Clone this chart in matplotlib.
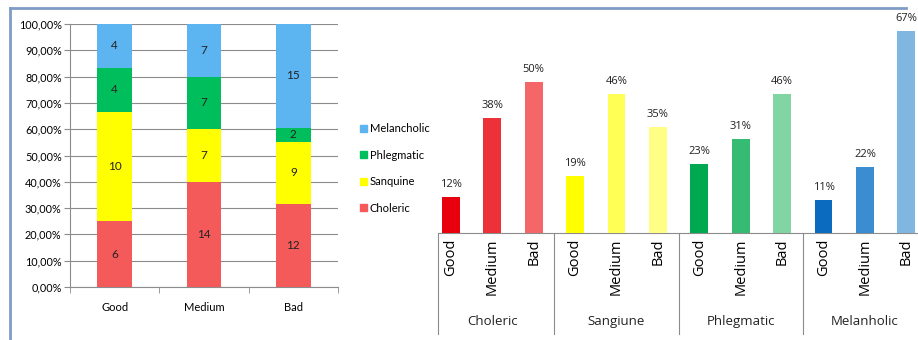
import matplotlib
matplotlib.use("Agg")
import matplotlib.pyplot as plt
import matplotlib.transforms as mtransforms
from matplotlib.lines import Line2D
from matplotlib.patches import Patch
from matplotlib.ticker import FuncFormatter

# left chart: counts stacked to 100%
levels = ['Good', 'Medium', 'Bad']
temperaments = ['Choleric', 'Sanquine', 'Phlegmatic', 'Melancholic']
choleric = [6, 14, 12]
sanquine = [10, 7, 9]
phlegmatic = [4, 7, 2]
melancholic = [4, 7, 15]
stack_colors = ['#F45A5A', '#FFFF00', '#00BE5C', '#5CB4F0']

# right chart: percentages per temperament
groups = ['Choleric', 'Sangiune', 'Phlegmatic', 'Melanholic']
pct_choleric = [12, 38, 50]
pct_sanguine = [19, 46, 35]
pct_phlegmatic = [23, 31, 46]
pct_melancholic = [11, 22, 67]
bar_colors = [['#E8000E', '#EC3238', '#F46668'],
              ['#FFFF00', '#FFFF55', '#FFFF85'],
              ['#00A84F', '#36BC72', '#80D5A3'],
              ['#0B6CBF', '#3A8DD0', '#80B7E0']]

W, H = 918, 340
fig = plt.figure(figsize=(W / 100, H / 100), dpi=100)
fig.patch.set_facecolor('white')

# ---- left stacked chart
ax1 = fig.add_axes([70 / W, 53 / H, 268 / W, 263 / H])
series = [choleric, sanquine, phlegmatic, melancholic]
totals = [sum(s[i] for s in series) for i in range(len(levels))]
x = range(len(levels))
bottoms = [0.0] * len(levels)
for name, vals, col in zip(temperaments, series, stack_colors):
    fr = [v / t for v, t in zip(vals, totals)]
    ax1.bar(x, fr, 0.39, bottom=bottoms, color=col, zorder=3, label=name)
    for i in x:
        ax1.text(i, bottoms[i] + fr[i] / 2, str(vals[i]), ha='center', va='center',
                 fontsize=8.5, color='#222222', family='Lato', zorder=4)
    bottoms = [b + f for b, f in zip(bottoms, fr)]

ax1.set_xlim(-0.5, 2.5)
ax1.set_ylim(0, 1)
ax1.set_yticks([i / 10 for i in range(11)])
ax1.yaxis.set_major_formatter(FuncFormatter(lambda v, p: f"{v * 100:.2f}%".replace('.', ',')))
ax1.grid(axis='y', color='#8C8C8C', linewidth=0.8, zorder=0)
ax1.set_xticks(list(x))
ax1.set_xticklabels(levels)
ax1.set_xticks([-0.5, 0.5, 1.5, 2.5], minor=True)
ax1.tick_params(axis='x', which='major', length=0, pad=11, labelsize=8)
ax1.tick_params(axis='x', which='minor', length=4, color='#8C8C8C', direction='out')
ax1.tick_params(axis='y', length=4, color='#8C8C8C', pad=2, labelsize=7.8)
for lab in ax1.get_xticklabels() + ax1.get_yticklabels():
    lab.set_family('Lato')
for s in ['top', 'right']:
    ax1.spines[s].set_visible(False)
for s in ['left', 'bottom']:
    ax1.spines[s].set_color('#8C8C8C')
    ax1.spines[s].set_linewidth(0.8)

handles = [Patch(color=c, label=n) for n, c in zip(temperaments, stack_colors)][::-1]
fig.legend(handles=handles, loc='upper left', bbox_to_anchor=(350 / W, 1 - 113 / H),
           frameon=False, handlelength=0.6, handleheight=0.6,
           handletextpad=0.3, labelspacing=1.4, prop={'family': 'Lato', 'size': 8})

# ---- right grouped chart
ax2 = fig.add_axes([438 / W, 107 / H, 480 / W, 223.5 / H])
pcts = [pct_choleric, pct_sanguine, pct_phlegmatic, pct_melancholic]
pos = 0
ticks, ticklabels = [], []
for g, vals, cols in zip(groups, pcts, bar_colors):
    for lvl, v, c in zip(levels, vals, cols):
        ax2.bar(pos, v / 100, 0.43, color=c, zorder=3)
        ax2.annotate(f"{v}%", (pos, v / 100), xytext=(0, 5), textcoords='offset points',
                     ha='center', va='bottom', fontsize=8, family='Open Sans', color='#222222')
        ticks.append(pos)
        ticklabels.append(lvl)
        pos += 1

ax2.set_xlim(-0.31, 11.28)
ax2.set_ylim(0, 0.74)
ax2.set_yticks([])
ax2.set_xticks(ticks)
ax2.set_xticklabels(ticklabels, rotation=90, fontsize=10.5, family='Open Sans', va='top')
ax2.tick_params(axis='x', length=0, pad=4)
for s in ['top', 'right', 'left']:
    ax2.spines[s].set_visible(False)
ax2.spines['bottom'].set_color('#8C8C8C')
ax2.spines['bottom'].set_linewidth(0.8)

trans = mtransforms.blended_transform_factory(ax2.transData, ax2.transAxes)
for sep in [-0.31, 2.5, 5.5, 8.5]:
    ax2.plot([sep, sep], [0, -0.45], color='#8C8C8C', linewidth=0.8,
             transform=trans, clip_on=False)
for k, g in enumerate(groups):
    ax2.text(3 * k + 1, -0.395, g, transform=trans, ha='center', va='center',
             fontsize=9.5, family='Open Sans', color='#222222')

# outer frame (screenshot border)
fig.add_artist(Line2D([10 / W, 10 / W], [0, 1 - 8 / H], color='#7F9CC6', linewidth=2))
fig.add_artist(Line2D([10 / W, 906 / W], [1 - 8 / H, 1 - 8 / H], color='#7F9CC6', linewidth=2))

fig.savefig('out.png', dpi=100)
